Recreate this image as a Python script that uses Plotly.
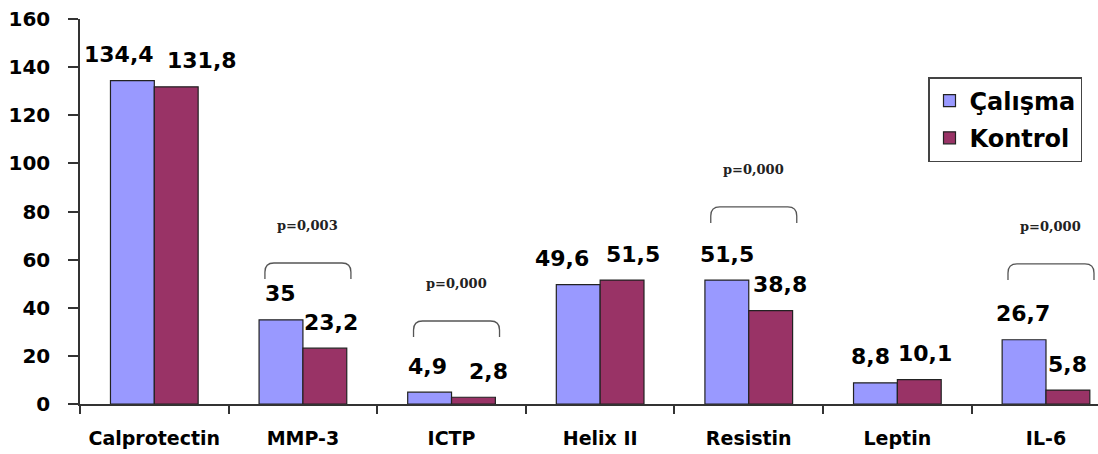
import plotly.graph_objects as go

# Marker means per group
categories = ["Calprotectin", "MMP-3", "ICTP", "Helix II", "Resistin", "Leptin", "IL-6"]
calisma = [134.4, 35, 4.9, 49.6, 51.5, 8.8, 26.7]
kontrol = [131.8, 23.2, 2.8, 51.5, 38.8, 10.1, 5.8]
series_names = ["Çalışma", "Kontrol"]

# Significance brackets
p_categories = ["MMP-3", "ICTP", "Resistin", "IL-6"]
p_labels = ["p=0,003", "p=0,000", "p=0,000", "p=0,000"]

# Layout tuning (not data): bracket heights and label nudges in pixels
bracket_top = [58.6, 34.5, 81.9, 58.2]
nudge_a = [-13, 0, -2, -16, 0, -5, -1]
nudge_b = [26, 6, 15, 11, 9, 6, 0]

BLUE = "#9999FF"
PLUM = "#993366"
EDGE = "#222222"
FONT = "DejaVu Sans, Arial, sans-serif"
SERIF = "DejaVu Serif, Times New Roman, serif"

fig = go.Figure()
for name, vals, col in [(series_names[0], calisma, BLUE), (series_names[1], kontrol, PLUM)]:
    fig.add_trace(go.Bar(
        x=categories, y=vals, name=name, legendgroup=name,
        marker=dict(color=col, line=dict(color=EDGE, width=1.2)),
        hoverinfo="skip",
    ))

# bar geometry in category units
bargap = 0.41
half_bar_units = (1 - bargap) / 4
x_min, x_max = -0.5, 6.35
plot_w = 1098 - 80
px_per_unit = plot_w / (x_max - x_min)
bar_shift_px = half_bar_units * px_per_unit

annotations = []
for i, c in enumerate(categories):
    for vals, sgn, nud in [(calisma, -1, nudge_a), (kontrol, 1, nudge_b)]:
        annotations.append(dict(
            x=c, y=vals[i], xref="x", yref="y",
            text=f"{vals[i]:g}".replace(".", ","),
            showarrow=False, xanchor="center", yanchor="middle",
            xshift=sgn * bar_shift_px + nud[i], yshift=26,
            font=dict(family=FONT, size=22, color="black", weight="bold"),
        ))

shapes = []
ypx = 385 / 160.0  # pixels per y unit
for c, lab, top in zip(p_categories, p_labels, bracket_top):
    idx = categories.index(c)
    cx = idx + 5 / px_per_unit
    hw = 43 / px_per_unit
    leg = 16 / ypx
    rx = 9 / px_per_unit
    ry = 9 / ypx
    x0, x1 = cx - hw, cx + hw
    path = (f"M {x0},{top - leg} L {x0},{top - ry} Q {x0},{top} {x0 + rx},{top} "
            f"L {x1 - rx},{top} Q {x1},{top} {x1},{top - ry} L {x1},{top - leg}")
    shapes.append(dict(type="path", path=path, xref="x", yref="y",
                       line=dict(color="#555555", width=1.3)))
    annotations.append(dict(
        x=cx, y=top, xref="x", yref="y", text=lab, showarrow=False,
        xanchor="center", yanchor="middle", yshift=37,
        font=dict(family=SERIF, size=13, color="#222222", weight="bold"),
    ))

fig.update_layout(
    width=1098, height=454, autosize=False,
    margin=dict(l=80, r=0, t=19, b=50),
    paper_bgcolor="white", plot_bgcolor="white",
    barmode="group", bargap=bargap, bargroupgap=0,
    showlegend=True,
    legend=dict(
        x=(928 - 80) / plot_w, y=(404 - 77) / 385, xanchor="left", yanchor="top",
        bordercolor="#444444", borderwidth=1.5, bgcolor="white",
        font=dict(family=FONT, size=24, color="black", weight="bold"),
        tracegroupgap=3, itemwidth=30,
    ),
    annotations=annotations,
    shapes=shapes,
    xaxis=dict(
        type="category", range=[x_min, x_max],
        showline=True, linecolor="#333333", linewidth=1.5,
        ticks="outside", tickson="boundaries", ticklen=8, tickcolor="#333333", tickwidth=1.5,
        tickfont=dict(family=FONT, size=19, color="black", weight="bold"),
        ticklabelstandoff=16,
        showgrid=False, zeroline=False,
    ),
    yaxis=dict(
        range=[0, 160], dtick=20,
        showline=True, linecolor="#333333", linewidth=1.5,
        ticks="outside", ticklen=10, tickcolor="#333333", tickwidth=1.5,
        tickfont=dict(family=FONT, size=20, color="black", weight="bold"),
        ticklabelstandoff=14,
        showgrid=False, zeroline=False,
    ),
)

fig.write_html("out.html")
